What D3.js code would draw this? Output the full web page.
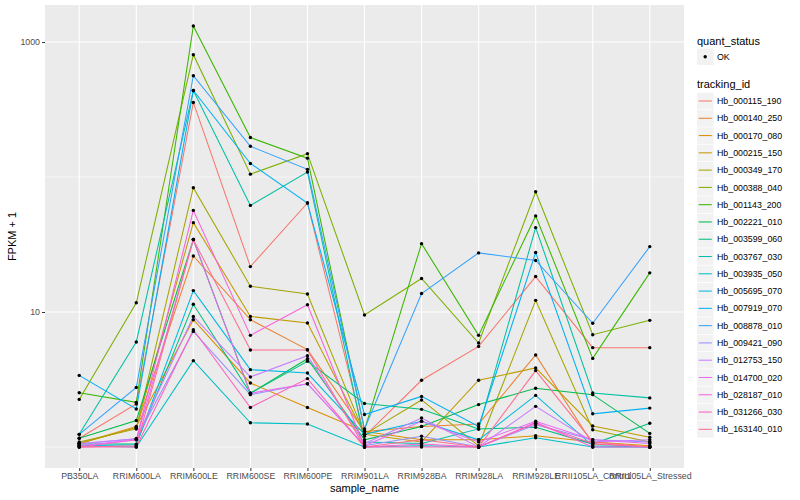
<!DOCTYPE html>
<html>
<head>
<meta charset="utf-8">
<script src="https://cdn.jsdelivr.net/npm/d3@7"></script>
<style>
  body { margin: 0; background: white; }
  text { font-family: "Liberation Sans", Arial, sans-serif; }
</style>
</head>
<body>
<div id="chart"></div>
<script>
// samples on the x axis
const samples = ["PB350LA", "RRIM600LA", "RRIM600LE", "RRIM600SE", "RRIM600PE", "RRIM901LA",
  "RRIM928BA", "RRIM928LA", "RRIM928LE", "RRII105LA_Control", "RRII105LA_Stressed"];

const trackingIds = ["Hb_000115_190", "Hb_000140_250", "Hb_000170_080", "Hb_000215_150",
  "Hb_000349_170", "Hb_000388_040", "Hb_001143_200", "Hb_002221_010", "Hb_003599_060",
  "Hb_003767_030", "Hb_003935_050", "Hb_005695_070", "Hb_007919_070", "Hb_008878_010",
  "Hb_009421_090", "Hb_012753_150", "Hb_014700_020", "Hb_028187_010", "Hb_031266_030",
  "Hb_163140_010"];

// FPKM per tracking id, one value per sample (same order as samples)
const fpkm = [
  [0.16, 1.08, 356, 20.7, 63.2, 0.2, 2.12, 4.56, 17.3, 4.44, 4.44],
  [0.06, 0.39, 25.0, 7.77, 4.26, 0.3, 0.42, 0.48, 3.8, 0.05, 0.0],
  [0.06, 0.42, 7.77, 1.98, 0.96, 0.3, 0.13, 0.13, 0.21, 0.09, 0.02],
  [0.06, 0.39, 44.9, 8.27, 7.28, 0.24, 0.09, 2.12, 2.85, 0.43, 0.18],
  [0.09, 0.36, 82.3, 14.5, 12.6, 0.24, 1.23, 0.02, 11.2, 0.34, 0.09],
  [1.25, 10.7, 805, 104, 148, 8.5, 16.7, 4.89, 76.7, 5.79, 7.67],
  [1.52, 1.14, 1313, 195, 137, 0.34, 31.1, 5.71, 50.5, 3.53, 18.5],
  [0.16, 0.57, 33.4, 1.5, 3.5, 0.13, 0.42, 1.06, 1.72, 1.44, 0.26],
  [0.05, 0.05, 10.4, 1.5, 3.31, 1.1, 0.9, 0.36, 0.4, 0.05, 0.5],
  [0.24, 5.0, 437, 60.6, 108, 0.09, 0.06, 0.36, 41.2, 1.51, 1.31],
  [0.02, 0.0, 3.36, 0.51, 0.48, 0.0, 0.02, 0.0, 0.17, 0.0, 0.0],
  [0.02, 0.04, 13.4, 2.74, 2.53, 0.24, 0.55, 0.13, 1.41, 0.02, 0.0],
  [2.39, 0.91, 437, 125, 63.2, 0.74, 1.37, 0.42, 26.6, 0.76, 0.94],
  [0.24, 1.76, 562, 168, 113, 0.36, 12.7, 26.4, 23.1, 7.25, 29.5],
  [0.05, 0.15, 6.18, 1.44, 1.94, 0.02, 0.2, 0.0, 0.46, 0.13, 0.09],
  [0.06, 0.15, 8.27, 2.3, 3.74, 0.06, 0.64, 0.0, 1.0, 0.09, 0.13],
  [0.02, 0.13, 33.4, 1.5, 1.94, 0.02, 0.55, 0.09, 0.55, 0.13, 0.06],
  [0.0, 0.13, 55.6, 5.71, 10.3, 0.0, 0.05, 0.0, 0.52, 0.0, 0.0],
  [0.0, 0.0, 6.39, 0.96, 2.21, 0.0, 0.0, 0.0, 0.5, 0.06, 0.0],
  [0.0, 0.02, 33.4, 4.23, 4.23, 0.0, 0.13, 0.0, 2.68, 0.09, 0.0]
];

const yTicks = [10, 1000];
const yMinor = [1, 100];

// ggplot default hue palette for 20 levels
const colorArray = ["#F8766D", "#EA8331", "#D89000", "#C09B00", "#A3A500", "#7CAE00", "#39B600",
  "#00BB4E", "#00BF7D", "#00C1A3", "#00BFC4", "#00BAE0", "#00B0F6", "#35A2FF", "#9590FF",
  "#C77CFF", "#E76BF3", "#FA62DB", "#FF62BC", "#FF6C91"];

let w = 800;
let h = 500;
let panel = {left: 45, right: 684, top: 5, bottom: 468};

let svg = d3.select("#chart")
  .append("svg")
  .attr("width", w)
  .attr("height", h);

let series = trackingIds.map((id, i) => ({
  id: id,
  color: colorArray[i],
  values: fpkm[i].map((v, j) => ({sample: samples[j], value: v + 1}))
}));

// scales
let x = d3.scalePoint()
  .domain(samples)
  .range([panel.left, panel.right])
  .padding(0.6);

let allVals = series.flatMap(s => s.values.map(d => d.value));
let lo = Math.log10(d3.min(allVals));
let hi = Math.log10(d3.max(allVals));
let pad = (hi - lo) * 0.05;
let y = d3.scaleLog()
  .domain([Math.pow(10, lo - pad), Math.pow(10, hi + pad)])
  .range([panel.bottom, panel.top]);

// panel + grid
svg.append("rect")
  .attr("x", panel.left).attr("y", panel.top)
  .attr("width", panel.right - panel.left)
  .attr("height", panel.bottom - panel.top)
  .attr("fill", "#EBEBEB");

svg.selectAll(".yminor").data(yMinor).join("line")
  .attr("x1", panel.left).attr("x2", panel.right)
  .attr("y1", d => y(d)).attr("y2", d => y(d))
  .attr("stroke", "white").attr("stroke-width", 0.55);

svg.selectAll(".ymajor").data(yTicks).join("line")
  .attr("x1", panel.left).attr("x2", panel.right)
  .attr("y1", d => y(d)).attr("y2", d => y(d))
  .attr("stroke", "white").attr("stroke-width", 1.1);

svg.selectAll(".xmajor").data(samples).join("line")
  .attr("x1", d => x(d)).attr("x2", d => x(d))
  .attr("y1", panel.top).attr("y2", panel.bottom)
  .attr("stroke", "white").attr("stroke-width", 1.1);

// axes
let yAxis = svg.append("g")
  .attr("transform", `translate(${panel.left},0)`)
  .call(d3.axisLeft(y).tickValues(yTicks).tickFormat(d3.format("d")).tickSize(3).tickPadding(2));
let xAxis = svg.append("g")
  .attr("transform", `translate(0,${panel.bottom})`)
  .call(d3.axisBottom(x).tickSize(3).tickPadding(2));

[yAxis, xAxis].forEach(a => {
  a.select(".domain").remove();
  a.selectAll(".tick line").attr("stroke", "#333333");
  a.selectAll(".tick text")
    .attr("fill", "#4D4D4D")
    .style("font-size", "8.8px")
    .style("font-family", '"Liberation Sans", Arial, sans-serif');
});

// lines
let line = d3.line()
  .x(d => x(d.sample))
  .y(d => y(d.value));

svg.selectAll(".series").data(series).join("path")
  .attr("d", d => line(d.values))
  .attr("fill", "none")
  .attr("stroke", d => d.color)
  .attr("stroke-width", 1.05);

// points
svg.selectAll(".pt").data(series.flatMap(s => s.values)).join("circle")
  .attr("cx", d => x(d.sample))
  .attr("cy", d => y(d.value))
  .attr("r", 1.7)
  .attr("fill", "black");

// axis titles
svg.append("text")
  .attr("x", (panel.left + panel.right) / 2)
  .attr("y", 492)
  .attr("text-anchor", "middle")
  .style("font-size", "11px")
  .text("sample_name");

svg.append("text")
  .attr("transform", `translate(16,${(panel.top + panel.bottom) / 2}) rotate(-90)`)
  .attr("text-anchor", "middle")
  .style("font-size", "11px")
  .text("FPKM + 1");

// legend
let lg = svg.append("g").attr("transform", "translate(697,0)");

lg.append("text").attr("x", 0).attr("y", 44.5).style("font-size", "11px").text("quant_status");
lg.append("rect").attr("x", 0).attr("y", 48.5).attr("width", 16.5).attr("height", 16.5).attr("fill", "#F2F2F2");
lg.append("circle").attr("cx", 8.2).attr("cy", 56.7).attr("r", 1.7).attr("fill", "black");
lg.append("text").attr("x", 20).attr("y", 59.8).style("font-size", "8.8px").text("OK");

lg.append("text").attr("x", 0).attr("y", 88).style("font-size", "11px").text("tracking_id");

let keys = lg.selectAll(".key").data(series).join("g")
  .attr("transform", (d, i) => `translate(0,${101 + i * 17.28})`);
keys.append("rect")
  .attr("x", 0).attr("y", -8.2).attr("width", 16.5).attr("height", 16.5)
  .attr("fill", "#F2F2F2");
keys.append("line")
  .attr("x1", 1.7).attr("x2", 14.8).attr("y1", 0).attr("y2", 0)
  .attr("stroke", d => d.color).attr("stroke-width", 1.05);
keys.append("text")
  .attr("x", 20).attr("y", 3.1)
  .style("font-size", "8.8px")
  .text(d => d.id);
</script>
</body>
</html>
